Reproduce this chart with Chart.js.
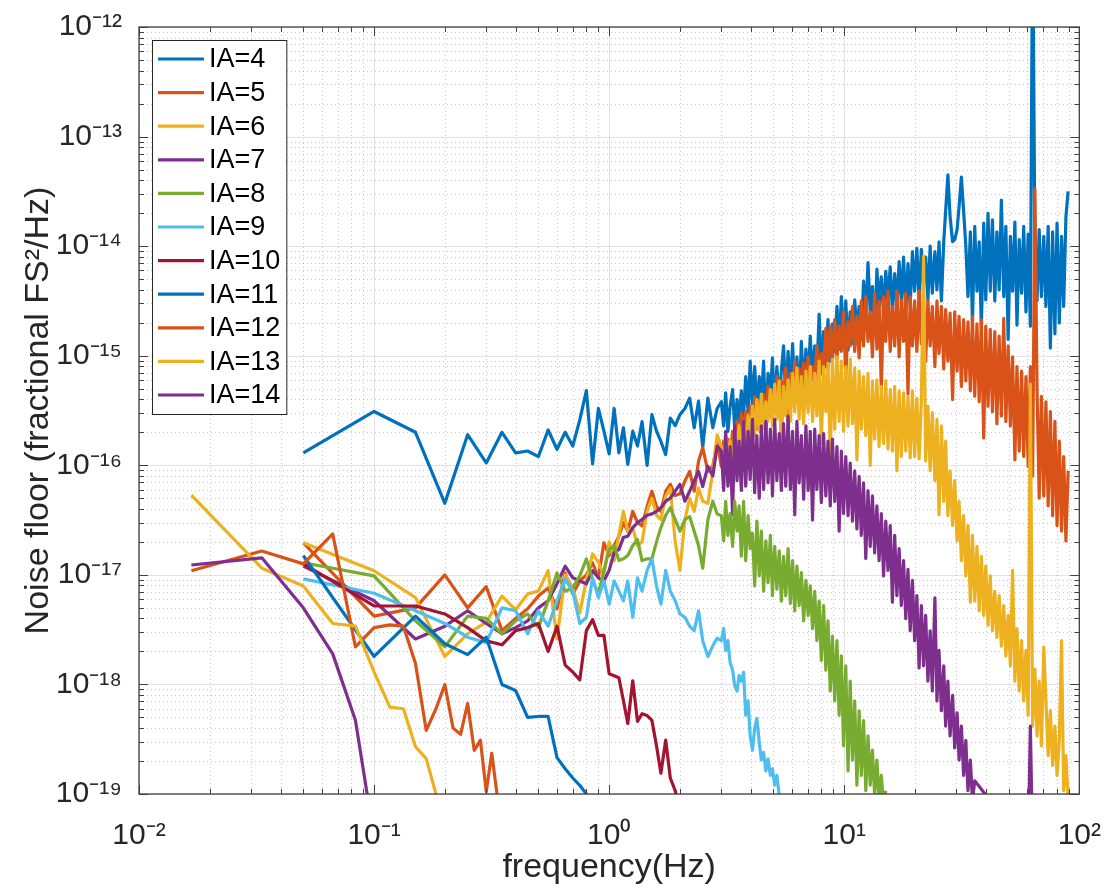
<!DOCTYPE html>
<html>
<head>
<meta charset="utf-8">
<title>Noise floor vs frequency</title>
<script src="https://cdn.jsdelivr.net/npm/chart.js@4.4.1/dist/chart.umd.min.js"></script>
<style>
  html, body { margin: 0; padding: 0; background: #fff; }
  canvas { display: block; }
</style>
</head>
<body>
<canvas id="noiseChart" width="1117" height="890"></canvas>
<script>
// Sample frequencies (Hz)
const lowFreq = [0.05, 0.1, 0.15, 0.2, 0.25, 0.3, 0.35, 0.4, 0.45, 0.5, 0.55, 0.6, 0.65, 0.7, 0.75, 0.8, 0.85, 0.9, 0.95];
const fineFreq = [0.0167, 0.0333, 0.05, 0.0667, 0.0833, 0.1, 0.1167, 0.1333, 0.15, 0.1667, 0.1833, 0.2, 0.2167, 0.2333, 0.25, 0.2667, 0.2833, 0.3, 0.3167, 0.3333, 0.35];
const midFreq = [1.0, 1.05, 1.1, 1.15, 1.2, 1.26, 1.32, 1.38, 1.45, 1.52, 1.59, 1.66, 1.74, 1.82, 1.91,
  2.0, 2.1, 2.2, 2.3, 2.4, 2.5, 2.63, 2.76, 2.88];
const denseFreq = [3.00, 3.07, 3.13, 3.20, 3.27, 3.35, 3.42, 3.50, 3.57, 3.65,
  3.73, 3.81, 3.90, 3.98, 4.07, 4.16, 4.25, 4.35, 4.44, 4.54,
  4.64, 4.74, 4.85, 4.95, 5.06, 5.17, 5.29, 5.40, 5.52, 5.64,
  5.77, 5.90, 6.03, 6.16, 6.29, 6.43, 6.57, 6.72, 6.87, 7.02,
  7.17, 7.33, 7.49, 7.65, 7.82, 7.99, 8.17, 8.35, 8.53, 8.72,
  8.91, 9.11, 9.31, 9.51, 9.72, 9.93, 10.15, 10.38, 10.6, 10.84,
  11.08, 11.32, 11.57, 11.82, 12.08, 12.35, 12.62, 12.9, 13.18, 13.47,
  13.77, 14.07, 14.38, 14.7, 15.02, 15.35, 15.69, 16.03, 16.39, 16.75,
  17.12, 17.49, 17.88, 18.27, 18.67, 19.08, 19.5, 19.93, 20.37, 20.82,
  21.28, 21.75, 22.2, 22.7, 23.2, 23.7, 24.3, 24.8, 25.3, 25.9,
  26.5, 27.0, 27.6, 28.2, 28.9, 29.5, 30.2, 30.8, 31.5, 32.2,
  32.9, 33.6, 34.4, 35.1, 35.9, 36.7, 37.5, 38.3, 39.2, 40.0,
  40.9, 41.8, 42.7, 43.7, 44.6, 45.6, 46.6, 47.7, 48.7, 49.8,
  50.9, 52.0, 53.2, 54.3, 55.5, 56.8, 58.0, 59.3, 60.6, 61.9,
  63.3, 64.7, 66.1, 67.5, 69.0, 70.6, 72.1, 73.7, 75.3, 77.0,
  78.7, 80.4, 82.2, 84.0, 85.8, 87.7, 89.6];
const spikeFreq = [60.6, 61.9, 63.3];

// Axis ticks
const xTicks = [1e-2, 1e-1, 1, 1e1, 1e2];
const yTicks = [1e-19, 1e-18, 1e-17, 1e-16, 1e-15, 1e-14, 1e-13, 1e-12];

const labels = ['IA=4', 'IA=5', 'IA=6', 'IA=7', 'IA=8', 'IA=9', 'IA=10', 'IA=11', 'IA=12', 'IA=13', 'IA=14'];
const colors = ['#0072BD', '#D95319', '#EDB120', '#7E2F8E', '#77AC30', '#4DBEEE', '#A2142F',
                '#0072BD', '#D95319', '#EDB120', '#7E2F8E'];

// Noise floor (fractional FS^2/Hz); the *DenseLog arrays hold log10 of the value
const ia4Low = [1.3e-16, 3.1e-16, 2.0e-16, 4.5e-17, 1.9e-16, 1.05e-16, 2.0e-16, 1.3e-16, 1.35e-16, 1.2e-16,
  2.1e-16, 1.4e-16, 2.0e-16, 1.5e-16, 2.6e-16, 4.8e-16, 1.03e-16, 3.3e-16, 2.05e-16];
const ia4Mid = [1.27e-16, 3.3e-16, 1.3e-16, 2.2e-16, 1.02e-16, 2.05e-16, 1.5e-16, 2.5e-16, 1.0e-16, 2.9e-16,
  2.05e-16, 1.65e-16, 1.25e-16, 2.7e-16, 2.3e-16, 2.9e-16, 3.3e-16, 4.1e-16, 2.2e-16, 3.85e-16,
  1.45e-16, 4.1e-16, 2.2e-16, 3.3e-16];
const ia4DenseLog = [-15.42, -15.64, -15.34, -15.69, -15.46, -15.31, -15.67, -15.40, -15.60, -15.32,
  -15.55, -15.19, -15.51, -15.05, -15.46, -15.10, -15.51, -15.19, -15.42, -15.05,
  -15.70, -15.16, -15.37, -15.02, -15.51, -15.10, -15.46, -15.14, -14.91, -15.40,
  -14.96, -15.32, -14.89, -15.37, -15.01, -15.45, -14.87, -15.34, -14.94, -15.23,
  -14.82, -15.22, -14.91, -15.14, -14.62, -15.16, -14.78, -15.10, -14.67, -15.05,
  -14.71, -14.96, -14.55, -14.94, -14.46, -14.87, -14.50, -14.95, -14.60, -14.89,
  -14.49, -14.78, -14.55, -14.85, -14.32, -14.64, -14.15, -14.60, -14.37, -14.80,
  -14.21, -14.55, -14.28, -14.61, -14.23, -14.50, -14.19, -14.60, -14.25, -14.55,
  -14.14, -14.50, -14.10, -14.62, -14.16, -14.55, -14.05, -14.41, -14.02, -14.50,
  -14.03, -14.37, -14.10, -14.49, -14.00, -14.43, -14.05, -14.40, -13.96, -14.50,
  -13.96, -13.68, -13.35, -13.73, -13.96, -13.94, -13.85, -13.64, -13.37, -13.68,
  -14.00, -14.46, -13.87, -14.70, -13.82, -14.41, -13.96, -14.75, -13.79, -14.49,
  -13.70, -14.41, -13.76, -14.50, -13.87, -14.40, -13.58, -14.46, -13.82, -14.85,
  -13.91, -14.41, -13.78, -14.72, -13.94, -14.43, -13.82, -14.60, -13.89, -14.73,
  -11.00, -13.96, -14.50, -13.85, -14.46, -13.91, -14.55, -13.82, -14.93, -13.87,
  -14.80, -13.79, -14.70, -13.91, -14.55, -13.73, -13.50];

const ia5Low = [1.96e-17, 4.2e-18, 5.0e-18, 1.0e-17, 5.0e-18, 7.8e-18, 3.1e-18, 4.0e-18, 4.9e-18, 6.4e-18,
  7.6e-18, 4.9e-18, 1.04e-17, 6.7e-18, 8.8e-18, 1.0e-17, 1.29e-17, 9.4e-18, 1.96e-17];
const ia5Mid = [1.5e-17, 1.85e-17, 2.25e-17, 3.0e-17, 2.5e-17, 3.8e-17, 3.0e-17, 2.8e-17, 4.2e-17, 5.8e-17,
  4.2e-17, 3.8e-17, 5.8e-17, 6.7e-17, 5.3e-17, 5.5e-17, 7.2e-17, 8.8e-17, 5.8e-17, 1.09e-16,
  1.45e-16, 8.8e-17, 9.8e-17, 1.65e-16];
const ia5DenseLog = [-16.01, -15.78, -16.05, -15.76, -15.92, -15.69, -15.85, -15.60, -15.83, -15.53,
  -15.73, -15.51, -15.95, -15.46, -15.69, -15.37, -15.67, -15.42, -15.60, -15.35,
  -15.64, -15.28, -15.55, -15.32, -15.51, -15.19, -15.49, -15.23, -15.42, -15.11,
  -15.60, -15.16, -15.40, -15.05, -15.37, -15.12, -15.32, -15.07, -15.28, -15.01,
  -15.23, -15.10, -15.25, -14.91, -15.22, -14.98, -15.14, -14.75, -15.12, -14.73,
  -15.05, -14.67, -15.03, -14.73, -14.96, -14.60, -15.20, -14.69, -14.91, -14.55,
  -14.96, -14.64, -15.02, -14.50, -14.91, -14.46, -14.87, -14.60, -15.01, -14.43,
  -14.94, -14.50, -15.30, -14.46, -14.87, -14.41, -14.96, -14.55, -14.91, -14.41,
  -15.01, -14.49, -14.87, -14.43, -15.35, -14.46, -14.91, -14.50, -14.96, -14.41,
  -14.89, -14.49, -15.05, -14.50, -14.91, -14.55, -15.10, -14.50, -14.98, -14.55,
  -15.12, -14.58, -15.05, -14.61, -15.40, -14.60, -15.14, -14.64, -15.28, -14.67,
  -15.23, -14.69, -15.32, -14.64, -15.37, -14.71, -15.42, -14.67, -15.75, -14.73,
  -15.46, -14.76, -15.51, -14.78, -15.62, -14.82, -15.55, -14.66, -15.60, -14.91,
  -15.64, -15.01, -15.95, -15.10, -15.87, -15.14, -15.92, -15.19, -16.01, -15.10,
  -16.10, -13.48, -15.32, -16.30, -15.37, -16.28, -15.42, -16.37, -15.51, -16.46,
  -15.60, -16.55, -15.78, -16.60, -15.92, -16.69, -16.05];

const ia6Low = [1.96e-17, 1.09e-17, 6.2e-18, 1.8e-18, 2.9e-18, 3.7e-18, 6.4e-18, 4.8e-18, 6.7e-18, 7.1e-18,
  1.09e-17, 2.6e-18, 1.0e-17, 7.6e-18, 4.5e-18, 9.0e-18, 1.55e-17, 1.3e-17, 1.0e-17];
const ia6Mid = [2.0e-17, 1.34e-17, 2.35e-17, 3.8e-17, 2.5e-17, 2.7e-17, 1.85e-17, 2.0e-17, 3.8e-17, 5.0e-17,
  3.5e-17, 3.2e-17, 5.2e-17, 6.2e-17, 2.0e-17, 1.1e-17, 3.2e-17, 5.0e-17, 3.8e-17, 6.2e-17,
  4.7e-17, 4.5e-17, 8.8e-17, 1.9e-16];
const ia6DenseLog = [-15.83, -16.01, -15.71, -15.94, -15.78, -16.03, -15.69, -15.87, -15.64, -16.10,
  -15.60, -15.85, -15.55, -15.78, -15.46, -15.73, -15.40, -15.69, -15.35, -15.67,
  -15.42, -15.60, -15.31, -15.64, -15.26, -15.58, -15.23, -15.85, -15.28, -15.55,
  -15.22, -15.60, -15.16, -15.51, -15.11, -15.58, -15.19, -15.62, -15.14, -15.52,
  -15.10, -15.60, -15.16, -15.55, -15.05, -15.80, -15.10, -15.51, -15.07, -15.92,
  -15.03, -15.67, -15.01, -15.60, -15.05, -15.69, -15.10, -15.64, -15.03, -15.62,
  -15.11, -15.95, -15.14, -15.67, -15.19, -15.73, -15.16, -16.00, -15.23, -15.76,
  -15.22, -15.83, -15.28, -15.80, -15.23, -15.85, -15.31, -15.87, -15.28, -16.05,
  -15.32, -15.92, -15.34, -15.87, -15.37, -15.93, -15.32, -15.92, -15.39, -15.94,
  -15.42, -14.09, -15.96, -15.46, -16.05, -15.52, -16.14, -15.58, -16.45, -15.64,
  -16.33, -15.78, -16.46, -16.05, -16.55, -16.14, -16.69, -16.33, -16.87, -16.46,
  -17.01, -16.55, -17.25, -16.64, -17.24, -16.74, -17.33, -16.83, -17.37, -16.92,
  -17.46, -17.01, -17.51, -17.15, -17.57, -17.19, -17.65, -17.28, -17.74, -17.37,
  -17.83, -16.96, -17.97, -17.49, -18.06, -17.60, -18.15, -17.69, -18.28, -15.26,
  -18.38, -17.86, -18.47, -17.97, -18.56, -17.66, -18.15, -18.65, -18.24, -18.74,
  -18.38, -18.83, -18.51, -17.60, -18.97, -18.65, -19.06];

const ia7Low = [1.2e-17, 5.8e-18, 2.6e-18, 3.4e-18, 4.7e-18, 3.6e-18, 2.9e-18, 3.3e-18, 3.8e-18, 5.0e-18,
  5.8e-18, 8.3e-18, 1.2e-17, 9.4e-18, 8.8e-18, 8.3e-18, 1.09e-17, 9.4e-18, 8.8e-18];
const ia7Mid = [1.1e-17, 1.6e-17, 1.7e-17, 2.2e-17, 2.25e-17, 2.7e-17, 3.0e-17, 3.2e-17, 3.5e-17, 3.6e-17,
  3.8e-17, 4.1e-17, 4.7e-17, 5.0e-17, 5.8e-17, 6.7e-17, 4.7e-17, 5.8e-17, 7.2e-17, 8.8e-17,
  6.4e-17, 9.8e-17, 8.0e-17, 1.5e-16];
const ia7DenseLog = [-15.87, -16.23, -15.69, -16.19, -15.83, -16.45, -15.64, -16.14, -15.78, -16.23,
  -15.60, -16.19, -15.69, -16.13, -15.58, -16.25, -15.73, -16.30, -15.64, -16.22,
  -15.60, -16.16, -15.67, -16.28, -15.58, -16.14, -15.71, -16.23, -15.62, -16.19,
  -15.55, -16.22, -15.69, -16.45, -15.60, -16.16, -15.73, -16.31, -15.64, -16.23,
  -15.69, -16.50, -15.67, -16.22, -15.73, -16.34, -15.71, -16.28, -15.78, -16.37,
  -15.76, -16.33, -15.83, -16.60, -15.87, -16.44, -15.92, -16.46, -15.98, -16.51,
  -16.05, -16.58, -16.10, -16.64, -16.16, -16.85, -16.23, -16.74, -16.28, -16.80,
  -16.37, -16.87, -16.44, -17.01, -16.51, -16.96, -16.55, -17.25, -16.64, -17.19,
  -16.76, -17.28, -16.87, -17.40, -16.95, -17.51, -17.05, -17.60, -17.19, -17.85,
  -17.28, -17.83, -17.37, -17.97, -17.51, -18.06, -17.21, -18.15, -17.69, -18.24,
  -17.83, -18.38, -17.97, -18.47, -18.10, -18.58, -18.26, -18.69, -18.38, -18.83,
  -18.51, -18.97, -18.69, -19.06, -18.88];
const ia7SpikeLog = [-19.5, -18.38, -19.5];

const ia8Low = [1.29e-17, 9.8e-18, 3.8e-18, 2.2e-18, 4.2e-18, 4.0e-18, 2.9e-18, 3.8e-18, 4.4e-18, 3.3e-18,
  5.8e-18, 1.04e-17, 7.1e-18, 7.6e-18, 9.8e-18, 1.4e-17, 9.0e-18, 6.7e-18, 1.1e-17];
const ia8Mid = [1.7e-17, 1.85e-17, 1.35e-17, 1.4e-17, 1.5e-17, 1.85e-17, 2.1e-17, 1.35e-17, 1.4e-17, 1.4e-17,
  2.0e-17, 2.7e-17, 3.5e-17, 4.1e-17, 3.2e-17, 2.5e-17, 3.2e-17, 3.4e-17, 2.5e-17, 1.85e-17,
  1.15e-17, 3.2e-17, 4.7e-17, 3.6e-17];
const ia8DenseLog = [-16.46, -16.69, -16.33, -16.64, -16.44, -16.74, -16.33, -16.60, -16.37, -16.83,
  -16.33, -16.87, -16.46, -16.76, -16.62, -17.10, -16.51, -17.01, -16.60, -17.15,
  -16.69, -17.07, -16.64, -17.19, -16.74, -17.13, -16.78, -17.24, -16.83, -17.19,
  -16.76, -17.26, -16.87, -17.33, -16.92, -17.28, -16.98, -17.42, -17.05, -17.37,
  -17.10, -17.49, -17.15, -17.60, -17.24, -17.78, -17.28, -17.87, -17.42, -18.06,
  -17.56, -18.15, -17.60, -18.28, -17.74, -18.56, -17.83, -18.79, -17.97, -18.69,
  -18.15, -18.92, -18.24, -18.83, -18.33, -18.97, -18.47, -18.92, -18.60, -19.01,
  -18.69, -19.06, -18.83, -19.10, -18.97];

const ia9Low = [9.2e-18, 6.8e-18, 4.7e-18, 3.6e-18, 2.7e-18, 2.4e-18, 5.0e-18, 4.7e-18, 2.9e-18, 4.7e-18,
  3.4e-18, 5.8e-18, 9.2e-18, 7.1e-18, 3.6e-18, 4.1e-18, 9.4e-18, 6.2e-18, 8.8e-18];
const ia9Mid = [5.4e-18, 8.8e-18, 7.1e-18, 5.8e-18, 8.8e-18, 4.1e-18, 9.4e-18, 7.1e-18, 1.1e-17, 1.4e-17,
  7.9e-18, 5.4e-18, 1.1e-17, 7.1e-18, 5.8e-18, 4.4e-18, 4.1e-18, 3.4e-18, 3.1e-18, 4.7e-18,
  2.5e-18, 1.8e-18, 2.25e-18, 2.65e-18];
const ia9DenseLog = [-17.60, -17.49, -17.69, -17.60, -17.80, -17.87, -18.01, -18.06, -17.92, -17.97,
  -17.89, -18.28, -18.15, -18.47, -18.60, -18.40, -18.31, -18.53, -18.69, -18.62,
  -18.79, -18.68, -18.83, -18.77, -18.92, -18.83, -19.01, -19.10];

const ia10Low = [1.26e-17, 5.2e-18, 5.2e-18, 4.4e-18, 3.3e-18, 2.5e-18, 2.3e-18, 3.1e-18, 3.3e-18, 3.6e-18,
  2.0e-18, 3.4e-18, 1.5e-18, 1.3e-18, 1.1e-18, 3.1e-18, 3.9e-18, 2.8e-18, 2.8e-18];
const ia10Mid = [1.25e-18, 1.2e-18, 1.15e-18, 7.1e-19, 4.4e-19, 1.08e-18, 4.6e-19, 5.4e-19, 5.2e-19, 4.7e-19,
  2.75e-19, 1.55e-19, 3.1e-19, 1.4e-19, 1.07e-19, 7.0e-20];

const ia11Low = [1.5e-17, 1.8e-18, 4.2e-18, 2.35e-18, 1.87e-18, 2.7e-18, 1.0e-18, 8.8e-19, 5.0e-19, 5.1e-19,
  5.1e-19, 2.15e-19, 1.7e-19, 1.4e-19, 1.2e-19, 1.0e-19, 7.0e-20];

const ia12Vals = [1.09e-17, 1.65e-17, 1.26e-17, 2.36e-17, 2.2e-18, 3.3e-18, 3.5e-18, 3.4e-18, 1.55e-18, 3.8e-19,
  6.0e-19, 1.0e-18, 4.0e-19, 3.5e-19, 6.7e-19, 2.5e-19, 3.1e-19, 1.05e-19, 2.35e-19, 1.0e-19, 6.0e-20];
const ia13Vals = [5.35e-17, 1.15e-17, 7.9e-18, 3.6e-18, 3.4e-18, 1.3e-18, 6.2e-19, 6.0e-19, 2.7e-19, 2.1e-19,
  1.0e-19, 5.0e-20];
const ia14Vals = [1.23e-17, 1.43e-17, 5.0e-18, 1.9e-18, 4.7e-19, 4.0e-20];

function toPoints(freqs, vals) {
    return vals.map((v, i) => ({ x: freqs[i], y: v }));
}
const fromLog = arr => arr.map(v => Math.pow(10, v));

const seriesPoints = [
    [...toPoints(lowFreq, ia4Low), ...toPoints(midFreq, ia4Mid), ...toPoints(denseFreq, fromLog(ia4DenseLog))],
    [...toPoints(lowFreq, ia5Low), ...toPoints(midFreq, ia5Mid), ...toPoints(denseFreq, fromLog(ia5DenseLog))],
    [...toPoints(lowFreq, ia6Low), ...toPoints(midFreq, ia6Mid), ...toPoints(denseFreq, fromLog(ia6DenseLog))],
    [...toPoints(lowFreq, ia7Low), ...toPoints(midFreq, ia7Mid), ...toPoints(denseFreq, fromLog(ia7DenseLog)),
     ...toPoints(spikeFreq, fromLog(ia7SpikeLog))],
    [...toPoints(lowFreq, ia8Low), ...toPoints(midFreq, ia8Mid), ...toPoints(denseFreq, fromLog(ia8DenseLog))],
    [...toPoints(lowFreq, ia9Low), ...toPoints(midFreq, ia9Mid), ...toPoints(denseFreq, fromLog(ia9DenseLog))],
    [...toPoints(lowFreq, ia10Low), ...toPoints(midFreq, ia10Mid)],
    toPoints(lowFreq, ia11Low),
    toPoints(fineFreq, ia12Vals),
    toPoints(fineFreq, ia13Vals),
    toPoints(fineFreq, ia14Vals)
];

const SUP = { '-': '\u207B', '0': '\u2070', '1': '\u00B9', '2': '\u00B2', '3': '\u00B3', '4': '\u2074',
              '5': '\u2075', '6': '\u2076', '7': '\u2077', '8': '\u2078', '9': '\u2079' };
function powLabel(v) {
    const e = Math.round(Math.log10(v));
    return '10' + String(e).split('').map(c => SUP[c]).join('');
}

function decadeRange(scale) {
    const lo = Math.round(Math.log10(scale.min));
    const hi = Math.round(Math.log10(scale.max));
    const major = [], minor = [];
    for (let e = lo; e <= hi; e++) {
        major.push(Math.pow(10, e));
        if (e < hi) {
            for (let m = 2; m <= 9; m++) minor.push(m * Math.pow(10, e));
        }
    }
    return { major, minor };
}

// MATLAB style grid, box and inward ticks
const matlabAxes = {
    id: 'matlabAxes',
    beforeDatasetsDraw(chart) {
        const { ctx, chartArea: a, scales: { x, y } } = chart;
        const gx = decadeRange(x), gy = decadeRange(y);
        ctx.save();
        ctx.lineWidth = 1;
        // minor grid (dotted)
        ctx.strokeStyle = 'rgba(38,38,38,0.25)';
        ctx.setLineDash([1, 3]);
        ctx.beginPath();
        gx.minor.forEach(v => {
            const p = Math.round(x.getPixelForValue(v)) + 0.5;
            ctx.moveTo(p, a.top); ctx.lineTo(p, a.bottom);
        });
        gy.minor.forEach(v => {
            const p = Math.round(y.getPixelForValue(v)) + 0.5;
            ctx.moveTo(a.left, p); ctx.lineTo(a.right, p);
        });
        ctx.stroke();
        // major grid (solid)
        ctx.setLineDash([]);
        ctx.strokeStyle = 'rgba(38,38,38,0.13)';
        ctx.beginPath();
        gx.major.forEach(v => {
            const p = Math.round(x.getPixelForValue(v)) + 0.5;
            ctx.moveTo(p, a.top); ctx.lineTo(p, a.bottom);
        });
        gy.major.forEach(v => {
            const p = Math.round(y.getPixelForValue(v)) + 0.5;
            ctx.moveTo(a.left, p); ctx.lineTo(a.right, p);
        });
        ctx.stroke();
        ctx.restore();
    },
    afterDatasetsDraw(chart) {
        const { ctx, chartArea: a, scales: { x, y } } = chart;
        const gx = decadeRange(x), gy = decadeRange(y);
        ctx.save();
        ctx.strokeStyle = '#404040';
        ctx.lineWidth = 1;
        ctx.beginPath();
        const tickX = (vals, len) => {
            vals.forEach(v => {
                const p = Math.round(x.getPixelForValue(v)) + 0.5;
                ctx.moveTo(p, a.bottom); ctx.lineTo(p, a.bottom - len);
                ctx.moveTo(p, a.top); ctx.lineTo(p, a.top + len);
            });
        };
        const tickY = (vals, len) => {
            vals.forEach(v => {
                const p = Math.round(y.getPixelForValue(v)) + 0.5;
                ctx.moveTo(a.left, p); ctx.lineTo(a.left + len, p);
                ctx.moveTo(a.right, p); ctx.lineTo(a.right - len, p);
            });
        };
        tickX(gx.major, 9); tickX(gx.minor, 5);
        tickY(gy.major, 9); tickY(gy.minor, 5);
        ctx.stroke();
        ctx.lineWidth = 1.3;
        ctx.strokeRect(a.left, a.top, a.right - a.left, a.bottom - a.top);
        ctx.restore();
    }
};

// Legend box in the upper-left corner of the axes
const legendBox = {
    id: 'legendBox',
    afterDatasetsDraw(chart) {
        const { ctx, chartArea: a } = chart;
        const sets = chart.data.datasets;
        const rowH = 33.6;
        ctx.save();
        ctx.font = '27px "Liberation Sans", Arial, sans-serif';
        const textW = Math.max(...sets.map(d => ctx.measureText(d.label).width));
        const left = a.left + 13, top = a.top + 13;
        const w = 6 + 46 + 5 + textW + 6;
        const h = 38 + (sets.length - 1) * rowH;
        ctx.fillStyle = '#fff';
        ctx.fillRect(left, top, w, h);
        ctx.strokeStyle = '#262626';
        ctx.lineWidth = 1;
        ctx.strokeRect(left + 0.5, top + 0.5, w, h);
        sets.forEach((d, i) => {
            const cy = top + 19 + i * rowH;
            ctx.strokeStyle = d.borderColor;
            ctx.lineWidth = d.borderWidth;
            ctx.beginPath();
            ctx.moveTo(left + 6, cy);
            ctx.lineTo(left + 52, cy);
            ctx.stroke();
            ctx.fillStyle = '#000';
            ctx.textBaseline = 'middle';
            ctx.fillText(d.label, left + 57, cy + 1);
        });
        ctx.restore();
    }
};

Chart.defaults.font.family = '"Liberation Sans", Arial, Helvetica, sans-serif';
Chart.defaults.color = '#262626';

new Chart(document.getElementById('noiseChart'), {
    type: 'line',
    data: {
        datasets: labels.map((label, i) => ({
            label: label,
            data: seriesPoints[i],
            borderColor: colors[i],
            backgroundColor: colors[i],
            borderWidth: 3.2,
            borderJoinStyle: 'round',
            pointRadius: 0,
            fill: false,
            tension: 0,
            order: labels.length - i
        }))
    },
    options: {
        responsive: false,
        animation: false,
        devicePixelRatio: 1,
        layout: { padding: { left: 18, top: 25, right: 27, bottom: 0 } },
        plugins: {
            legend: { display: false },
            tooltip: { enabled: false }
        },
        scales: {
            x: {
                type: 'logarithmic',
                min: 1e-2,
                max: 1e2,
                grid: { display: false },
                border: { display: false },
                afterBuildTicks: scale => { scale.ticks = xTicks.map(v => ({ value: v })); },
                afterFit: scale => { scale.height = 96; },
                ticks: {
                    callback: v => powLabel(v),
                    font: { size: 30 },
                    color: '#262626',
                    padding: 16,
                    maxRotation: 0,
                    autoSkip: false
                },
                title: {
                    display: true,
                    text: 'frequency(Hz)',
                    font: { size: 34 },
                    color: '#262626',
                    padding: { top: 0, bottom: 2 }
                }
            },
            y: {
                type: 'logarithmic',
                min: 1e-19,
                max: 1e-12,
                grid: { display: false },
                border: { display: false },
                afterBuildTicks: scale => { scale.ticks = yTicks.map(v => ({ value: v })); },
                afterFit: scale => { scale.width = 121; },
                ticks: {
                    callback: v => powLabel(v),
                    font: { size: 30 },
                    color: '#262626',
                    padding: 9,
                    autoSkip: false
                },
                title: {
                    display: true,
                    text: 'Noise floor (fractional FS\u00B2/Hz)',
                    font: { size: 34 },
                    color: '#262626',
                    padding: { top: 0, bottom: 0 }
                }
            }
        }
    },
    plugins: [matlabAxes, legendBox]
});
</script>
</body>
</html>
